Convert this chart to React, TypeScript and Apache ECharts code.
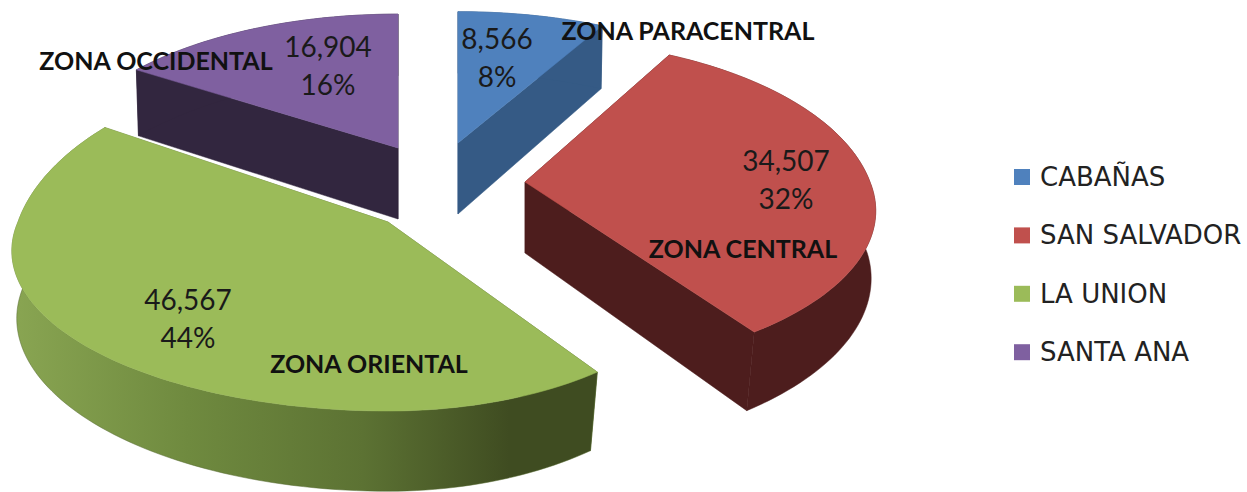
import React, { useEffect, useRef } from "react";
import * as echarts from "echarts";

const categories = ["CABAÑAS", "SAN SALVADOR", "LA UNION", "SANTA ANA"];
const values = [8566, 34507, 46567, 16904];
const zones = ["ZONA PARACENTRAL", "ZONA CENTRAL", "ZONA ORIENTAL", "ZONA OCCIDENTAL"];

const topColors = ["#4f81bd", "#c0504d", "#9bbb59", "#7f60a0"];
const wallColors = ["#355a85", "#4d1d1d", "", "#32263f"];
const apexX = [458, 525, 388, 398];
const apexY = [143, 182, 222, 148];
const rxLeft = [345, 345, 370, 342];
const rxRight = [345, 345, 315, 345];
const ryBack = [155, 168, 191, 158];
const ryFront = [155, 155, 155, 155];
const valueLabelX = [497, 786, 188, 328];
const valueLabelY = [57, 179, 318, 65];
const zoneLabelX = [688, 743, 369, 156];
const zoneLabelY = [30, 248, 363, 60];
const seriesZ = [3, 4, 5, 2];

const P = 0.18, DEPTH = 71, DEPTH_PERSPECTIVE = 0.13, SHRINK = 0.008, SHRINK_FRONT = 0.03;
const FONT = "Lato";

const total = values.reduce((a, b) => a + b, 0);

function sliceAngles(i: number) {
  const before = values.slice(0, i).reduce((a, b) => a + b, 0);
  return [(before / total) * Math.PI * 2, ((before + values[i]) / total) * Math.PI * 2];
}

function project(i: number, X: number, Y: number, Z: number) {
  const s = 1 / (1 - P * Y);
  const rx = X < 0 ? rxLeft[i] : rxRight[i];
  const ry = Y < 0 ? ryBack[i] : ryFront[i];
  const shrink = SHRINK + SHRINK_FRONT * Math.max(Y, 0);
  return [
    apexX[i] + rx * X * s * (1 - shrink * Z),
    apexY[i] + ry * Y * s + DEPTH * Z * (1 + DEPTH_PERSPECTIVE * Y),
  ];
}

function arcPoints(i: number, Z: number, a0: number, a1: number) {
  const pts: number[][] = [];
  const steps = Math.max(8, Math.ceil((a1 - a0) * 40));
  for (let k = 0; k <= steps; k++) {
    const a = a0 + ((a1 - a0) * k) / steps;
    pts.push(project(i, Math.sin(a), -Math.cos(a), Z));
  }
  return pts;
}

function poly(points: number[][], fill: any) {
  return {
    type: "polygon",
    shape: { points },
    style: { fill, stroke: typeof fill === "string" ? fill : "#55682f", lineWidth: 0.5 },
  };
}

function wallFill(i: number) {
  if (wallColors[i]) return wallColors[i];
  return new echarts.graphic.LinearGradient(
    13, 0, 597, 0,
    [
      { offset: 0, color: "#89a552" },
      { offset: 0.3, color: "#6f8a3f" },
      { offset: 0.6, color: "#5c7233" },
      { offset: 0.85, color: "#3f4c21" },
      { offset: 1, color: "#3f4c21" },
    ],
    true
  );
}

function renderSlice(i: number) {
  return () => {
    const [a0, a1] = sliceAngles(i);
    const top = arcPoints(i, 0, a0, a1);
    const bottom = arcPoints(i, 1, a0, a1);
    const apex0 = project(i, 0, 0, 0);
    const apex1 = project(i, 0, 0, 1);
    const fill = wallFill(i);
    const pct = Math.round((values[i] / total) * 100);
    const children: any[] = [
      poly([apex0, top[0], bottom[0], apex1], fill),
      poly([apex0, top[top.length - 1], bottom[bottom.length - 1], apex1], fill),
      poly([...top, ...bottom.slice().reverse()], fill),
      poly([apex0, ...top], topColors[i]),
      {
        type: "text",
        z2: 20,
        style: {
          text: `${values[i].toLocaleString("en-US")}\n${pct}%`,
          x: valueLabelX[i],
          y: valueLabelY[i],
          fill: "#1a1a1a",
          font: `28px ${FONT}`,
          lineHeight: 38,
          align: "center",
          verticalAlign: "middle",
        },
      },
      {
        type: "text",
        z2: 20,
        style: {
          text: zones[i],
          x: zoneLabelX[i],
          y: zoneLabelY[i],
          fill: "#111111",
          font: `bold 25px ${FONT}`,
          align: "center",
          verticalAlign: "middle",
        },
      },
    ];
    return { type: "group", children };
  };
}

export default function App() {
  const ref = useRef<HTMLDivElement>(null);
  useEffect(() => {
    document.body.style.margin = "0";
    const chart = echarts.init(ref.current!, undefined, { renderer: "svg" });
    chart.setOption({
      animation: false,
      backgroundColor: "#ffffff",
      legend: {
        orient: "vertical",
        left: 1009,
        top: 159,
        data: categories,
        icon: "rect",
        itemWidth: 16,
        itemHeight: 16,
        itemGap: 32.4,
        selectedMode: false,
        textStyle: {
          fontFamily: "DejaVu Sans",
          fontSize: 26,
          color: "#222222",
          padding: [0, 0, 0, 5],
        },
      },
      series: categories.map((name, i) => ({
        type: "custom",
        name,
        coordinateSystem: "none",
        z: seriesZ[i],
        itemStyle: { color: topColors[i] },
        data: [values[i]],
        renderItem: renderSlice(i),
      })),
    });
    return () => chart.dispose();
  }, []);
  return <div ref={ref} style={{ width: 1247, height: 492 }} />;
}
